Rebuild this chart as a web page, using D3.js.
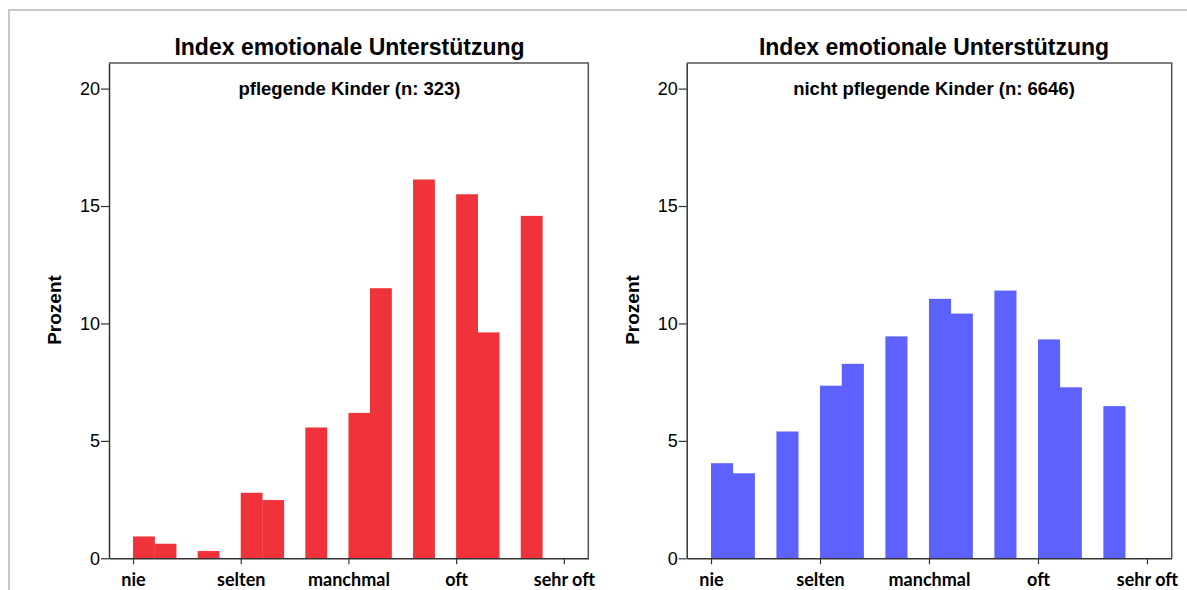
<!DOCTYPE html>
<html>
<head>
<meta charset="utf-8">
<script src="https://cdn.jsdelivr.net/npm/d3@7"></script>
<style>
  body { margin: 0; background: #fff; }
  svg { display: block; }
</style>
</head>
<body>
<svg id="chartArea" width="1187" height="590"></svg>
<script>
// Index-Werte (Klassenanfang), Klassenbreite 0.2
const binStarts = [1.0, 1.2, 1.6, 2.0, 2.2, 2.6, 3.0, 3.2, 3.6, 4.0, 4.2, 4.6];
const binWidth = 0.2;
// Prozent je Klasse
const pflegend = [0.93, 0.62, 0.31, 2.79, 2.48, 5.57, 6.19, 11.5, 16.13, 15.5, 9.62, 14.58];
const nichtPflegend = [4.05, 3.62, 5.4, 7.35, 8.28, 9.45, 11.05, 10.42, 11.4, 9.32, 7.28, 6.48];
const xTickVals = [1, 2, 3, 4, 5];
const xTickLabels = ["nie", "selten", "manchmal", "oft", "sehr oft"];
const yTickVals = [0, 5, 10, 15, 20];
const chartTitle = "Index emotionale Unterstützung";

const svg = d3.select("#chartArea");
const sans = "'Liberation Sans', Arial, sans-serif";

// hellgrauer Rahmen
svg.append("path")
    .attr("d", "M9,590 V10 H1187")
    .attr("fill", "none")
    .attr("stroke", "#c8c8c8")
    .attr("stroke-width", 2);

function drawPanel(opts) {
    const x = d3.scaleLinear().domain([0.777, 5.227]).range([opts.left, opts.right]);
    const y = d3.scaleLinear().domain([0, 21.09]).range([558.3, 63]);

    const g = svg.append("g");

    g.selectAll("rect.bar")
        .data(binStarts.map((b, i) => ({ b: b, v: opts.values[i] })))
        .enter().append("rect")
        .attr("class", "bar")
        .attr("x", d => x(d.b))
        .attr("y", d => y(d.v))
        .attr("width", d => x(d.b + binWidth) - x(d.b) + 0.3)
        .attr("height", d => y(0) - y(d.v))
        .attr("fill", opts.color);

    // Rahmen oben/rechts
    g.append("path")
        .attr("d", `M${opts.left},63 H${opts.right} V558.3`)
        .attr("fill", "none")
        .attr("stroke", "#555")
        .attr("stroke-width", 1.5);

    const yAxis = g.append("g")
        .attr("transform", `translate(${opts.left},0)`)
        .call(d3.axisLeft(y).tickValues(yTickVals).tickSize(8).tickPadding(1).tickSizeOuter(0));
    yAxis.select(".domain").attr("stroke", "#333").attr("stroke-width", 1.5);
    yAxis.selectAll(".tick line").attr("stroke", "#333").attr("stroke-width", 1.2);
    yAxis.selectAll(".tick text")
        .attr("font-family", sans)
        .attr("font-size", 18)
        .attr("fill", "#000");

    const xAxis = g.append("g")
        .attr("transform", `translate(0,${y(0)})`)
        .call(d3.axisBottom(x).tickValues(xTickVals).tickFormat((d, i) => xTickLabels[i])
            .tickSize(6).tickPadding(9).tickSizeOuter(0));
    xAxis.select(".domain").attr("stroke", "#333").attr("stroke-width", 1.5);
    xAxis.selectAll(".tick line").attr("stroke", "#333").attr("stroke-width", 1.2);
    xAxis.selectAll(".tick text")
        .attr("font-family", "Lato, Carlito, sans-serif")
        .attr("font-weight", "bold")
        .attr("font-size", 18)
        .attr("fill", "#000");

    svg.append("text")
        .attr("x", opts.titleX)
        .attr("y", 55)
        .attr("text-anchor", "middle")
        .attr("font-family", sans)
        .attr("font-weight", "bold")
        .attr("font-size", 23)
        .text(chartTitle);

    svg.append("text")
        .attr("x", opts.titleX)
        .attr("y", 95)
        .attr("text-anchor", "middle")
        .attr("font-family", sans)
        .attr("font-weight", "bold")
        .attr("font-size", 18.5)
        .text(opts.subtitle);

    svg.append("text")
        .attr("transform", `translate(${opts.left - 48},${310}) rotate(-90)`)
        .attr("text-anchor", "middle")
        .attr("font-family", sans)
        .attr("font-weight", "bold")
        .attr("font-size", 19)
        .text("Prozent");
}

drawPanel({
    left: 109, right: 588.3, titleX: 349.5,
    values: pflegend, color: "#f0333a",
    subtitle: "pflegende Kinder (n: 323)"
});
drawPanel({
    left: 686.7, right: 1171.7, titleX: 934,
    values: nichtPflegend, color: "#5d62ff",
    subtitle: "nicht pflegende Kinder (n: 6646)"
});
</script>
</body>
</html>
